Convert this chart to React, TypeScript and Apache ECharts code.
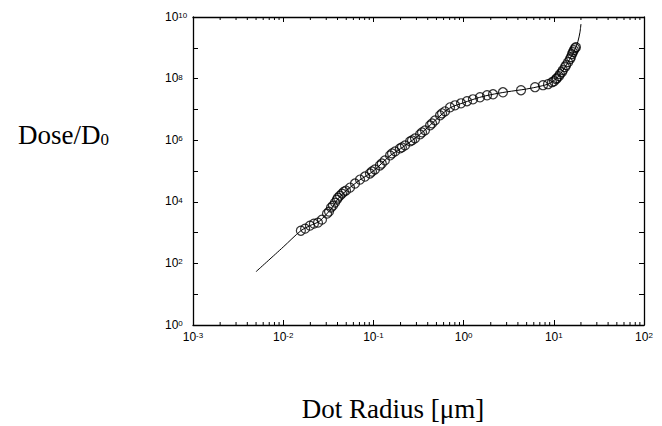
import React, { useEffect, useRef } from "react";
import * as echarts from "echarts";

// Measured circles (Dot radius [µm], Dose/D0)
const circleX = [
  0.0157, 0.0175, 0.0198, 0.0219, 0.0243, 0.0269, 0.0306, 0.0322, 0.0339, 0.0356,
  0.0375, 0.0394, 0.0405, 0.0426, 0.0449, 0.0472, 0.0497, 0.0551, 0.0625, 0.071,
  0.0807, 0.0916, 0.0964, 0.104, 0.118, 0.124, 0.134, 0.153, 0.161, 0.174,
  0.197, 0.207, 0.224, 0.255, 0.268, 0.289, 0.329, 0.346, 0.373, 0.425,
  0.447, 0.482, 0.548, 0.577, 0.622, 0.707, 0.803, 0.936, 1.09, 1.27,
  1.52, 1.82, 2.12, 2.73, 4.33, 6.19, 7.59, 8.62, 9.55, 10.05,
  10.6, 10.8, 11.4, 11.7, 12.3, 12.6, 13.3, 13.7, 14.4, 15.1,
  15.5, 15.9, 16.3, 16.7, 17.2, 17.6,
];
const circleY = [
  1150, 1340, 1680, 1950, 2100, 2630, 4130, 4800, 6470, 7520,
  9420, 11800, 13700, 15900, 18500, 21500, 23200, 29000, 39200, 52800,
  66200, 83000, 96300, 112000, 151000, 175000, 220000, 320000, 372000, 432000,
  540000, 583000, 677000, 914000, 985000, 1.15e6, 1.55e6, 1.8e6, 2.09e6, 3.03e6,
  3.52e6, 4.42e6, 6.43e6, 7.47e6, 8.67e6, 1.17e7, 1.36e7, 1.58e7, 1.84e7, 2.13e7,
  2.48e7, 2.88e7, 3.1e7, 3.6e7, 4.19e7, 5.25e7, 6.1e7, 6.57e7, 7.63e7, 8.2e7,
  9.56e7, 1.03e8, 1.2e8, 1.39e8, 1.62e8, 1.88e8, 2.35e8, 2.73e8, 3.42e8, 4.29e8,
  4.98e8, 6.23e8, 7.24e8, 8.41e8, 9.77e8, 1.05e9,
];

// Fitted curve
const fitX = [
  0.005, 0.01, 0.0157, 0.02, 0.025, 0.03, 0.035, 0.04, 0.05, 0.07,
  0.1, 0.15, 0.2, 0.3, 0.4, 0.5, 0.7, 1, 1.5, 2,
  3, 5, 7, 9, 11, 13, 15, 17, 18.5, 19.5, 20,
];
const fitY = [
  54, 340, 1150, 1700, 2300, 3900, 6500, 12000, 23000, 50000,
  100000, 300000, 530000, 1.25e6, 2.6e6, 4.8e6, 1.1e7, 1.65e7, 2.45e7, 3.0e7,
  3.7e7, 4.6e7, 5.6e7, 7.0e7, 1.1e8, 2.1e8, 4.2e8, 8.5e8, 1.6e9, 3.2e9, 5.9e9,
];

// Axis ranges and minor tick positions
const xMin = 0.001;
const xMax = 100;
const yMin = 1;
const yMax = 1e10;
const minorDecades = [-3, -2, -1, 0, 1];
const minorMultipliers = [2, 3, 4, 5, 6, 7, 8, 9];
const xMinorTicks: number[] = [];
minorDecades.forEach((d) =>
  minorMultipliers.forEach((m) => xMinorTicks.push(m * Math.pow(10, d)))
);

const SANS = "'Liberation Sans', Arial, Helvetica, sans-serif";
const SERIF = "'Liberation Serif', 'Times New Roman', serif";

const expLabel = (v: number) => {
  const e = Math.round(Math.log10(v));
  return `{b|10}{s|${e}}`;
};

const labelRich = {
  b: {
    fontSize: 12,
    fontFamily: SANS,
    color: "#000",
    lineHeight: 11,
    padding: [5, 0, 0, 0],
    verticalAlign: "bottom",
  },
  s: {
    fontSize: 8,
    fontFamily: SANS,
    color: "#000",
    lineHeight: 7,
    verticalAlign: "top",
  },
};

export default function App() {
  const ref = useRef<HTMLDivElement>(null);

  useEffect(() => {
    if (!ref.current) return;
    const chart = echarts.init(ref.current, undefined, { renderer: "svg" });

    const axisLine = { show: true, lineStyle: { color: "#000", width: 1.3 } };
    const tickStyle = { color: "#000", width: 1 };

    const option: any = {
      animation: false,
      backgroundColor: "#fff",
      grid: { left: 193, right: 18, top: 17, bottom: 101, containLabel: false },
      xAxis: [
        {
          type: "log",
          logBase: 10,
          min: xMin,
          max: xMax,
          interval: 1,
          position: "bottom",
          axisLine,
          axisTick: { show: true, inside: true, length: 5, lineStyle: tickStyle },
          axisLabel: {
            show: true,
            color: "#000",
            margin: 6.5,
            formatter: expLabel,
            rich: labelRich,
          },
          splitLine: { show: false },
        },
        {
          type: "log",
          logBase: 10,
          min: xMin,
          max: xMax,
          interval: 1,
          position: "top",
          axisLine,
          axisTick: { show: true, inside: true, length: 5, lineStyle: tickStyle },
          axisLabel: { show: false },
          splitLine: { show: false },
        },
      ],
      yAxis: [
        {
          type: "log",
          logBase: 10,
          min: yMin,
          max: yMax,
          interval: 1,
          position: "left",
          axisLine,
          axisTick: { show: true, inside: true, length: 5, lineStyle: tickStyle },
          axisLabel: {
            show: true,
            color: "#000",
            align: "left",
            margin: 28,
            formatter: (v: number) => {
              const e = Math.round(Math.log10(v));
              return e % 2 === 0 ? expLabel(v) : "";
            },
            rich: labelRich,
          },
          splitLine: { show: false },
        },
        {
          type: "log",
          logBase: 10,
          min: yMin,
          max: yMax,
          interval: 1,
          position: "right",
          axisLine,
          axisTick: { show: true, inside: true, length: 5, lineStyle: tickStyle },
          axisLabel: { show: false },
          splitLine: { show: false },
        },
      ],
      series: [
        {
          type: "custom",
          xAxisIndex: 0,
          yAxisIndex: 0,
          clip: false,
          silent: true,
          data: xMinorTicks.map((v) => [v, yMin]),
          renderItem: (params: any, api: any) => {
            const v = api.value(0);
            const b = api.coord([v, yMin]);
            const t = api.coord([v, yMax]);
            return {
              type: "group",
              children: [
                {
                  type: "line",
                  shape: { x1: b[0], y1: b[1], x2: b[0], y2: b[1] - 3 },
                  style: { stroke: "#000", lineWidth: 1 },
                },
                {
                  type: "line",
                  shape: { x1: t[0], y1: t[1], x2: t[0], y2: t[1] + 3 },
                  style: { stroke: "#000", lineWidth: 1 },
                },
              ],
            };
          },
        },
        {
          type: "line",
          xAxisIndex: 0,
          yAxisIndex: 0,
          data: fitX.map((x, i) => [x, fitY[i]]),
          showSymbol: false,
          smooth: 0.3,
          lineStyle: { color: "#000", width: 1 },
          silent: true,
        },
        {
          type: "scatter",
          xAxisIndex: 0,
          yAxisIndex: 0,
          data: circleX.map((x, i) => [x, circleY[i]]),
          symbol: "circle",
          symbolSize: 9,
          itemStyle: { color: "rgba(0,0,0,0)", borderColor: "#000", borderWidth: 1.2 },
          silent: true,
        },
      ],
      graphic: [
        {
          type: "text",
          x: 18,
          y: 118,
          style: {
            text: "{a|Dose/D}{b|0}",
            verticalAlign: "top",
            align: "left",
            rich: {
              a: {
                fontSize: 27,
                fontFamily: SERIF,
                fill: "#000",
                lineHeight: 30,
                verticalAlign: "bottom",
              },
              b: {
                fontSize: 17,
                fontFamily: SERIF,
                fill: "#000",
                lineHeight: 17,
                verticalAlign: "bottom",
              },
            },
          },
        },
        {
          type: "text",
          x: 393,
          y: 409,
          style: {
            text: "Dot Radius [\u03bcm]",
            fontSize: 27,
            fontFamily: SERIF,
            fill: "#000",
            align: "center",
            verticalAlign: "middle",
          },
        },
      ],
    };

    chart.setOption(option);
    return () => chart.dispose();
  }, []);

  return <div ref={ref} style={{ width: 662, height: 426, position: "absolute", left: 0, top: 0 }} />;
}
